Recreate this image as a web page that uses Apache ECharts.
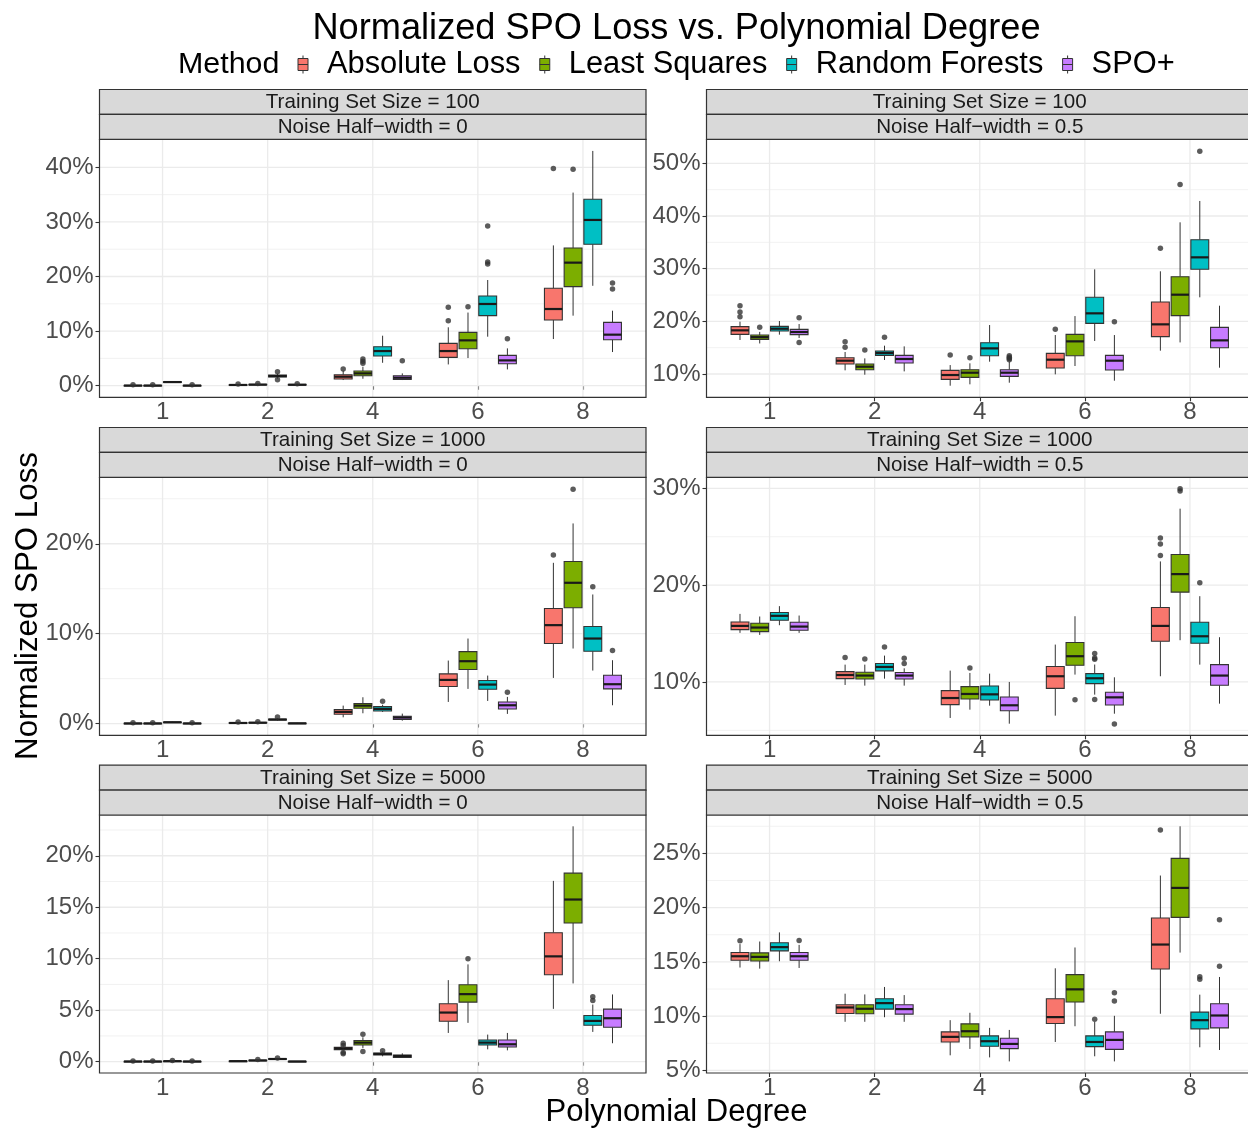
<!DOCTYPE html>
<html><head><meta charset="utf-8">
<script src="https://cdn.jsdelivr.net/npm/echarts@6/dist/echarts.min.js"></script>
<style>html,body{margin:0;padding:0;background:#fff}#c{width:1248px;height:1128px}</style>
</head><body><div id="c"></div>
<script>
const FONT = '"Liberation Sans", Arial, Helvetica, sans-serif';
const methods = ['Absolute Loss', 'Least Squares', 'Random Forests', 'SPO+'];
const methodColors = ['#F8766D', '#7CAE00', '#00BFC4', '#C77CFF'];
const degrees = ['1', '2', '4', '6', '8'];
const trainSizes = [100, 1000, 5000];
const noiseWidths = ['0', '0.5'];

// ---- box statistics in percent: [lower whisker, Q1, median, Q3, upper whisker] per degree ----
// Training 100, noise 0
const n100_e0_AL  = [[0,0.01,0.03,0.06,0.12],[0.05,0.1,0.14,0.18,0.25],[1.04,1.22,1.65,2.0,2.75],[3.9,5.19,6.35,7.76,10.7],[8.55,12.03,14.05,17.84,25.7]];
const n100_e0_LS  = [[0,0.01,0.03,0.06,0.12],[0.08,0.14,0.2,0.25,0.35],[1.28,1.83,2.26,2.69,3.48],[5.07,6.78,8.31,9.77,13.4],[12.83,18.14,22.54,25.23,35.37]];
const n100_e0_RF  = [[0.5,0.6,0.67,0.74,0.8],[1.3,1.59,1.77,1.95,2.2],[4.2,5.44,6.35,7.15,9.16],[8.98,12.83,14.97,16.43,19.36],[18.3,25.9,30.36,34.15,43.0]];
const n100_e0_SPO = [[0,0.01,0.03,0.06,0.12],[0.08,0.12,0.18,0.24,0.3],[1.04,1.16,1.47,1.83,2.26],[2.99,4.03,4.64,5.56,6.84],[6.17,8.43,9.35,11.6,13.74]];
const n100_e0_out = [[0,0,0.2],[1,0,0.2],[3,0,0.2],[0,1,0.3],[1,1,0.4],[2,1,1.1],[2,1,2.57],[3,1,0.35],
  [0,2,3.05],[1,2,4.1],[1,2,4.5],[1,2,4.89],[3,2,4.58],
  [0,3,11.9],[0,3,14.36],[1,3,14.48],[2,3,22.3],[2,3,22.66],[2,3,29.26],[3,3,8.61],
  [0,4,39.77],[1,4,39.65],[3,4,17.7],[3,4,18.8]];

// Training 100, noise 0.5
const n100_e5_AL  = [[16.46,17.53,18.29,18.99,19.94],[10.7,11.9,12.53,13.1,14.18],[7.78,8.99,9.81,10.7,11.7],[9.94,11.14,12.72,13.92,17.4],[14.43,17.09,19.43,23.67,29.5]];
const n100_e5_LS  = [[15.8,16.58,17.0,17.4,18.0],[9.87,10.82,11.39,11.9,12.97],[8.04,9.37,10.25,10.82,12.03],[11.52,13.48,16.2,17.53,21.0],[16.0,21.08,25.06,28.48,38.8]];
const n100_e5_RF  = [[17.47,18.16,18.6,19.05,20.06],[12.66,13.54,13.99,14.37,15.38],[12.34,13.48,14.87,15.95,19.3],[16.27,19.62,21.52,24.56,29.87],[24.56,29.9,32.15,35.5,42.85]];
const n100_e5_SPO = [[16.84,17.47,17.97,18.48,19.49],[10.5,12.09,12.85,13.54,15.25],[8.35,9.56,10.25,10.82,12.34],[8.73,10.76,12.53,13.54,17.4],[11.2,15.0,16.39,18.86,22.97]];
const n100_e5_out = [[0,0,20.89],[0,0,21.77],[0,0,22.97],[1,0,18.86],[3,0,16.0],[3,0,20.7],
  [0,1,15.06],[0,1,16.14],[1,1,14.56],[2,1,16.96],
  [0,2,13.6],[1,2,13.1],[3,2,12.7],[3,2,12.95],[3,2,13.2],[3,2,13.45],
  [0,3,18.48],[3,3,19.94],
  [0,4,33.9],[1,4,46.0],[2,4,52.3]];

// Training 1000, noise 0
const n1000_e0_AL  = [[0,0.01,0.02,0.04,0.08],[0.03,0.05,0.07,0.1,0.14],[0.7,1.04,1.3,1.56,2.0],[2.41,4.12,4.86,5.53,7.01],[5.08,8.9,10.95,12.8,17.88]];
const n1000_e0_LS  = [[0,0.01,0.02,0.04,0.08],[0.05,0.08,0.1,0.13,0.18],[1.15,1.7,2.0,2.23,2.93],[3.86,6.01,6.94,8.01,9.46],[8.35,12.88,15.66,18.03,22.26]];
const n1000_e0_RF  = [[0.1,0.13,0.15,0.17,0.2],[0.35,0.4,0.45,0.5,0.6],[1.3,1.41,1.63,1.89,2.1],[2.52,3.82,4.34,4.79,5.34],[5.9,8.05,9.46,10.8,14.36]];
const n1000_e0_SPO = [[0,0.01,0.02,0.04,0.08],[0,0.01,0.03,0.05,0.08],[0.33,0.45,0.67,0.82,1.11],[1.08,1.63,2.04,2.41,2.97],[2.04,3.86,4.38,5.38,7.05]];
const n1000_e0_out = [[0,0,0.1],[1,0,0.1],[3,0,0.1],[0,1,0.17],[1,1,0.22],[2,1,0.74],
  [2,2,2.49],[3,3,3.49],[0,4,18.74],[1,4,26.05],[2,4,15.21],[3,4,8.13]];

// Training 1000, noise 0.5
const n1000_e5_AL  = [[15.07,15.41,15.79,16.2,17.03],[9.69,10.34,10.72,11.07,11.79],[6.28,7.66,8.34,9.1,11.17],[6.52,9.34,10.59,11.59,13.86],[10.59,14.21,15.79,17.69,22.45]];
const n1000_e5_LS  = [[14.86,15.2,15.62,16.07,16.76],[9.62,10.31,10.66,11.0,11.79],[7.14,8.24,8.76,9.52,10.93],[10.76,11.72,12.66,14.07,16.79],[14.31,19.28,21.14,23.17,27.9]];
const n1000_e5_RF  = [[15.86,16.38,16.83,17.17,17.83],[10.34,11.14,11.55,11.9,12.72],[7.55,8.14,8.72,9.59,10.86],[8.69,9.83,10.38,10.86,11.8],[11.79,14.0,14.72,16.17,18.86]];
const n1000_e5_SPO = [[15.07,15.34,15.72,16.17,16.86],[9.62,10.31,10.66,10.97,11.41],[5.69,7.03,7.59,8.45,10.0],[6.72,7.62,8.41,8.93,10.48],[7.76,9.66,10.66,11.79,14.62]];
const n1000_e5_out = [[0,1,12.52],[1,1,12.38],[2,1,13.62],[3,1,11.9],[3,1,12.45],
  [1,2,11.45],[1,3,8.17],[2,3,8.2],[2,3,12.34],[2,3,12.48],[2,3,12.93],[3,3,5.66],
  [0,4,23.07],[0,4,24.24],[0,4,24.86],[1,4,29.72],[1,4,29.97],[2,4,20.24]];

// Training 5000, noise 0
const n5000_e0_AL  = [[0,0.01,0.02,0.03,0.05],[0.03,0.04,0.05,0.06,0.08],[1.07,1.17,1.3,1.4,1.49],[2.79,3.93,4.77,5.62,7.92],[5.13,8.44,10.23,12.53,17.56]];
const n5000_e0_LS  = [[0,0.01,0.02,0.03,0.05],[0.08,0.1,0.12,0.14,0.17],[1.33,1.62,1.85,2.05,2.37],[3.77,5.78,6.56,7.47,9.45],[7.6,13.47,15.75,18.31,22.86]];
const n5000_e0_RF  = [[0.03,0.04,0.05,0.06,0.08],[0.2,0.23,0.26,0.29,0.33],[0.52,0.65,0.75,0.84,1.0],[1.2,1.62,1.85,2.11,2.63],[2.89,3.54,3.96,4.48,5.55]];
const n5000_e0_SPO = [[0,0.01,0.02,0.03,0.05],[0,0.01,0.02,0.03,0.05],[0.36,0.42,0.55,0.65,0.81],[1.1,1.43,1.69,2.11,2.79],[1.79,3.34,4.22,5.1,6.53]];
const n5000_e0_out = [[0,0,0.07],[1,0,0.07],[2,0,0.12],[3,0,0.07],[1,1,0.2],[2,1,0.36],
  [0,2,0.78],[0,2,0.9],[0,2,1.56],[0,2,1.78],[1,2,1.0],[1,2,2.66],[2,2,1.07],
  [1,3,10.0],[2,4,5.94],[2,4,6.3]];

// Training 5000, noise 0.5
const n5000_e5_AL  = [[14.48,15.15,15.52,15.86,16.64],[9.48,10.25,10.8,11.05,12.07],[6.39,7.62,8.09,8.55,9.63],[7.62,9.32,9.91,11.6,14.41],[10.22,14.35,16.6,19.04,22.96]];
const n5000_e5_LS  = [[14.38,15.09,15.46,15.83,16.88],[9.48,10.22,10.68,11.05,12.0],[6.98,8.09,8.61,9.29,10.31],[9.07,11.3,12.47,13.83,16.33],[15.86,19.1,21.82,24.54,27.5]];
const n5000_e5_RF  = [[15.06,16.02,16.36,16.76,17.72],[9.9,10.65,11.2,11.6,12.69],[6.2,7.22,7.69,8.18,8.92],[6.3,7.19,7.62,8.18,9.48],[7.13,8.83,9.63,10.37,11.98]];
const n5000_e5_SPO = [[14.44,15.15,15.52,15.86,16.57],[9.48,10.19,10.65,11.05,11.94],[5.83,7.01,7.44,7.96,8.73],[5.83,6.94,7.81,8.55,10.03],[6.88,8.92,10.06,11.14,13.61]];
const n5000_e5_out = [[0,0,16.94],[3,0,16.98],[2,3,9.72],[3,3,11.39],[3,3,12.16],
  [0,4,27.16],[2,4,13.4],[2,4,13.64],[3,4,14.6],[3,4,18.89]];

// ---- y-axis ticks (percent) ----
const n100_e0_major = [0,10,20,30,40],   n100_e0_minor = [5,15,25,35];
const n100_e5_major = [10,20,30,40,50],  n100_e5_minor = [15,25,35,45];
const n1000_e0_major = [0,10,20],        n1000_e0_minor = [5,15,25];
const n1000_e5_major = [10,20,30],       n1000_e5_minor = [5,15,25];
const n5000_e0_major = [0,5,10,15,20],   n5000_e0_minor = [2.5,7.5,12.5,17.5,22.5];
const n5000_e5_major = [5,10,15,20,25],  n5000_e5_minor = [7.5,12.5,17.5,22.5,27.5];

// ---- axis limits (percent) ----
const n100_e0_lim = [-2.12, 45.13];
const n100_e5_lim = [5.58, 54.56];
const n1000_e0_lim = [-1.3, 27.39];
const n1000_e5_lim = [4.49, 31.14];
const n5000_e0_lim = [-1.1, 23.96];
const n5000_e5_lim = [4.76, 28.54];

const panels = [
  {size:0, noise:0, boxes:[n100_e0_AL,n100_e0_LS,n100_e0_RF,n100_e0_SPO], out:n100_e0_out, major:n100_e0_major, minor:n100_e0_minor, lim:n100_e0_lim},
  {size:0, noise:1, boxes:[n100_e5_AL,n100_e5_LS,n100_e5_RF,n100_e5_SPO], out:n100_e5_out, major:n100_e5_major, minor:n100_e5_minor, lim:n100_e5_lim},
  {size:1, noise:0, boxes:[n1000_e0_AL,n1000_e0_LS,n1000_e0_RF,n1000_e0_SPO], out:n1000_e0_out, major:n1000_e0_major, minor:n1000_e0_minor, lim:n1000_e0_lim},
  {size:1, noise:1, boxes:[n1000_e5_AL,n1000_e5_LS,n1000_e5_RF,n1000_e5_SPO], out:n1000_e5_out, major:n1000_e5_major, minor:n1000_e5_minor, lim:n1000_e5_lim},
  {size:2, noise:0, boxes:[n5000_e0_AL,n5000_e0_LS,n5000_e0_RF,n5000_e0_SPO], out:n5000_e0_out, major:n5000_e0_major, minor:n5000_e0_minor, lim:n5000_e0_lim},
  {size:2, noise:1, boxes:[n5000_e5_AL,n5000_e5_LS,n5000_e5_RF,n5000_e5_SPO], out:n5000_e5_out, major:n5000_e5_major, minor:n5000_e5_minor, lim:n5000_e5_lim}
];

// ---- layout ----
const CANVAS_W = 1248;
const COL_X = [99.5, 706.5];
const ROW_Y = [139.3, 477.3, 815];
const PW = 546.5, PH = 258, STRIP_H = 24.9;
const X_MIN = 0.4, X_SPAN = 5.2;
const DODGE = 0.1875, BOX_W = 0.17;
const DARK = '#333333';

function boxRender(color) {
  return function (params, api) {
    const x = api.value(0);
    const lo = api.coord([x, api.value(1)]);
    const q1 = api.coord([x, api.value(2)]);
    const md = api.coord([x, api.value(3)]);
    const q3 = api.coord([x, api.value(4)]);
    const hi = api.coord([x, api.value(5)]);
    const xl = api.coord([x - BOX_W / 2, api.value(3)])[0];
    const xr = api.coord([x + BOX_W / 2, api.value(3)])[0];
    return {type: 'group', children: [
      {type: 'line', shape: {x1: lo[0], y1: lo[1], x2: q1[0], y2: q1[1]}, style: {stroke: DARK, lineWidth: 1}},
      {type: 'line', shape: {x1: q3[0], y1: q3[1], x2: hi[0], y2: hi[1]}, style: {stroke: DARK, lineWidth: 1}},
      {type: 'rect', shape: {x: xl, y: q3[1], width: xr - xl, height: Math.max(q1[1] - q3[1], 0.6)}, style: {fill: color, stroke: DARK, lineWidth: 1.1}},
      {type: 'line', shape: {x1: xl, y1: md[1], x2: xr, y2: md[1]}, style: {stroke: '#1A1A1A', lineWidth: 2.2}}
    ]};
  };
}

function gridRender(lim, xmax) {
  return function (params, api) {
    const flag = api.value(0), v = api.value(1), major = api.value(2);
    let p1, p2;
    if (flag === 0) { p1 = api.coord([X_MIN, v]); p2 = api.coord([xmax, v]); }
    else { p1 = api.coord([v, lim[0]]); p2 = api.coord([v, lim[1]]); }
    return {type: 'line', shape: {x1: p1[0], y1: p1[1], x2: p2[0], y2: p2[1]},
      style: {stroke: major ? '#EBEBEB' : '#F2F2F2', lineWidth: major ? 1.3 : 1}};
  };
}

const grids = [], xAxes = [], yAxes = [], series = [], graphics = [];
panels.forEach((p, i) => {
  const col = p.noise, row = p.size;
  const left = COL_X[col], top = ROW_Y[row];
  // the right column runs past the page edge: keep the visible part and its scale
  const visW = Math.min(PW, CANVAS_W - left);
  const xmax = X_MIN + X_SPAN * visW / PW;
  grids.push({left: left, top: top, width: visW, height: PH, show: false});
  xAxes.push({
    type: 'value', gridIndex: i, min: X_MIN, max: xmax,
    axisLine: {show: false}, splitLine: {show: false},
    axisTick: {show: true, length: 4, lineStyle: {color: DARK, width: 1.1}, customValues: [1, 2, 3, 4, 5]},
    axisLabel: {show: true, customValues: [1, 2, 3, 4, 5], formatter: v => degrees[Math.round(v) - 1],
      fontSize: 24, color: '#4D4D4D', fontFamily: FONT, margin: 3}
  });
  yAxes.push({
    type: 'value', gridIndex: i, min: p.lim[0], max: p.lim[1],
    axisLine: {show: false}, splitLine: {show: false},
    axisTick: {show: true, length: 4, lineStyle: {color: DARK, width: 1.1}, customValues: p.major},
    axisLabel: {show: true, customValues: p.major, formatter: v => v + '%',
      fontSize: 24, color: '#4D4D4D', fontFamily: FONT, margin: 6}
  });
  const gridData = [];
  p.minor.forEach(v => gridData.push([0, v, 0]));
  p.major.forEach(v => gridData.push([0, v, 1]));
  degrees.forEach((d, k) => gridData.push([1, k + 1, 1]));
  series.push({type: 'custom', name: 'grid' + i, xAxisIndex: i, yAxisIndex: i, silent: true, z: 1,
    renderItem: gridRender(p.lim, xmax), data: gridData, encode: {x: -1, y: -1}});
  p.boxes.forEach((arr, m) => {
    const data = arr.map((s, k) => [k + 1 + (m - 1.5) * DODGE].concat(s));
    series.push({type: 'custom', name: methods[m], xAxisIndex: i, yAxisIndex: i, z: 3, silent: true,
      itemStyle: {color: methodColors[m]}, renderItem: boxRender(methodColors[m]), data: data,
      encode: {x: 0, y: [1, 2, 3, 4, 5]}});
  });
  series.push({type: 'scatter', name: 'outliers' + i, xAxisIndex: i, yAxisIndex: i, z: 4, silent: true,
    symbol: 'circle', symbolSize: 5.5, itemStyle: {color: DARK},
    data: p.out.map(o => [o[1] + 1 + (o[0] - 1.5) * DODGE, o[2]])});
  // panel border
  graphics.push({type: 'rect', z: 100, shape: {x: left, y: top, width: PW, height: PH},
    style: {fill: 'none', stroke: DARK, lineWidth: 1.2}});
  // strips
  const labels = ['Training Set Size = ' + trainSizes[p.size], 'Noise Half\u2212width = ' + noiseWidths[p.noise]];
  labels.forEach((t, s) => {
    const sy = top - STRIP_H * (2 - s);
    graphics.push({type: 'rect', z: 100, shape: {x: left, y: sy, width: PW, height: STRIP_H},
      style: {fill: '#D9D9D9', stroke: DARK, lineWidth: 1.2}});
    graphics.push({type: 'text', z: 101, x: left + PW / 2, y: sy + STRIP_H / 2 + 0.5,
      style: {text: t, fontSize: 20.6, fill: '#1A1A1A', fontFamily: FONT,
        align: 'center', verticalAlign: 'middle', textAlign: 'center', textVerticalAlign: 'middle'}});
  });
});

graphics.push({type: 'text', z: 101, x: 676.5, y: 29.5,
  style: {text: 'Normalized SPO Loss vs. Polynomial Degree', fontSize: 36.2, fill: '#000', fontFamily: FONT,
    align: 'center', verticalAlign: 'middle', textAlign: 'center', textVerticalAlign: 'middle'}});
graphics.push({type: 'text', z: 101, x: 178, y: 65,
  style: {text: 'Method', fontSize: 30.4, fill: '#000', fontFamily: FONT,
    align: 'left', verticalAlign: 'middle', textAlign: 'left', textVerticalAlign: 'middle'}});
graphics.push({type: 'text', z: 101, x: 676.5, y: 1112,
  style: {text: 'Polynomial Degree', fontSize: 31, fill: '#000', fontFamily: FONT,
    align: 'center', verticalAlign: 'middle', textAlign: 'center', textVerticalAlign: 'middle'}});
graphics.push({type: 'text', z: 101, x: 28, y: 606, rotation: Math.PI / 2,
  style: {text: 'Normalized SPO Loss', fontSize: 31.3, fill: '#000', fontFamily: FONT,
    align: 'center', verticalAlign: 'middle', textAlign: 'center', textVerticalAlign: 'middle'}});

const KEY_ICON = 'path://M5,0L5,3M0,3L10,3L10,15L0,15ZM0,9L10,9M5,15L5,18';

const chart = echarts.init(document.getElementById('c'), null, {renderer: 'canvas'});
chart.setOption({
  animation: false,
  backgroundColor: '#ffffff',
  textStyle: {fontFamily: FONT},
  grid: grids, xAxis: xAxes, yAxis: yAxes, series: series,
  legend: {
    data: methods.map(n => ({name: n, icon: KEY_ICON})),
    left: 297.5, top: 49, orient: 'horizontal', padding: 0,
    itemWidth: 38, itemHeight: 18, itemGap: 18.8, selectedMode: false,
    itemStyle: {borderColor: DARK, borderWidth: 1},
    textStyle: {fontSize: 30.8, color: '#000', fontFamily: FONT}
  },
  graphic: {elements: graphics}
});
</script></body></html>
